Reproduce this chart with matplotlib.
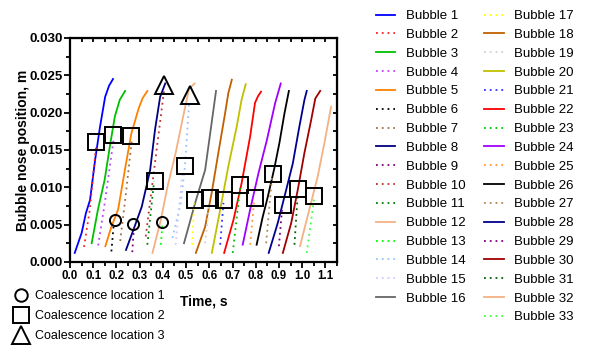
import numpy as np
import matplotlib
matplotlib.use("Agg")
import matplotlib.pyplot as plt
from matplotlib.lines import Line2D

plt.rcParams['font.family'] = ['Liberation Sans', 'DejaVu Sans']

# bubble nose position traces (time in s, position in m)
t1 = [0.020, 0.050, 0.068, 0.086, 0.108, 0.129, 0.151, 0.168, 0.185]
y1 = [0.0012, 0.0039, 0.0065, 0.0083, 0.0137, 0.0181, 0.0221, 0.0236, 0.0245]
t2 = [0.060, 0.085, 0.112]
y2 = [0.0020, 0.0070, 0.0155]
t3 = [0.093, 0.120, 0.149, 0.171, 0.193, 0.214, 0.237]
y3 = [0.0025, 0.0070, 0.0110, 0.0154, 0.0195, 0.0217, 0.0229]
t4 = [0.121, 0.150, 0.188]
y4 = [0.0022, 0.0080, 0.0165]
t5 = [0.152, 0.178, 0.207, 0.236, 0.264, 0.295, 0.312, 0.333]
y5 = [0.0021, 0.0047, 0.0070, 0.0123, 0.0172, 0.0205, 0.0219, 0.0229]
t6 = [0.178, 0.188]
y6 = [0.0014, 0.0050]
t7 = [0.216, 0.240, 0.266]
y7 = [0.0028, 0.0090, 0.0163]
t8 = [0.241, 0.273, 0.309, 0.345, 0.366, 0.388, 0.410]
y8 = [0.0016, 0.0043, 0.0074, 0.0123, 0.0177, 0.0221, 0.0239]
t9 = [0.268, 0.275]
y9 = [0.0013, 0.0046]
t10 = [0.326, 0.362, 0.405]
y10 = [0.0034, 0.0123, 0.0230]
t11 = [0.333, 0.362]
y11 = [0.0023, 0.0108]
t12 = [0.355, 0.391, 0.420, 0.455, 0.484, 0.513, 0.537]
y12 = [0.0012, 0.0056, 0.0101, 0.0146, 0.0190, 0.0232, 0.0239]
t13 = [0.391, 0.398]
y13 = [0.0023, 0.0050]
t14 = [0.441, 0.477, 0.495, 0.513]
y14 = [0.0032, 0.0079, 0.0128, 0.0213]
t15 = [0.455, 0.484]
y15 = [0.0023, 0.0123]
t16 = [0.491, 0.540, 0.582, 0.610, 0.629]
y16 = [0.0025, 0.0080, 0.0123, 0.0186, 0.0229]
t17 = [0.527, 0.534]
y17 = [0.0023, 0.0079]
t18 = [0.542, 0.582, 0.610, 0.639, 0.668, 0.682, 0.697]
y18 = [0.0012, 0.0047, 0.0092, 0.0146, 0.0199, 0.0226, 0.0244]
t19 = [0.582, 0.600]
y19 = [0.0025, 0.0079]
t20 = [0.611, 0.647, 0.682, 0.718, 0.739, 0.757]
y20 = [0.0012, 0.0070, 0.0128, 0.0181, 0.0217, 0.0238]
t21 = [0.647, 0.661]
y21 = [0.0023, 0.0079]
t22 = [0.664, 0.704, 0.739, 0.776, 0.797, 0.810, 0.823]
y22 = [0.0012, 0.0056, 0.0105, 0.0168, 0.0213, 0.0222, 0.0228]
t23 = [0.701, 0.733]
y23 = [0.0012, 0.0100]
t24 = [0.744, 0.776, 0.812, 0.848, 0.884, 0.908]
y24 = [0.0023, 0.0070, 0.0119, 0.0163, 0.0213, 0.0239]
t25 = [0.776, 0.793]
y25 = [0.0023, 0.0081]
t26 = [0.804, 0.830, 0.852, 0.880, 0.902, 0.924, 0.943]
y26 = [0.0023, 0.0060, 0.0087, 0.0125, 0.0159, 0.0199, 0.0229]
t27 = [0.845, 0.870]
y27 = [0.0025, 0.0113]
t28 = [0.856, 0.895, 0.931, 0.960, 0.988, 1.010, 1.020]
y28 = [0.0012, 0.0052, 0.0096, 0.0132, 0.0181, 0.0217, 0.0229]
t29 = [0.900, 0.914]
y29 = [0.0021, 0.0072]
t30 = [0.917, 0.953, 0.981, 1.010, 1.039, 1.057, 1.078]
y30 = [0.0012, 0.0052, 0.0096, 0.0146, 0.0190, 0.0219, 0.0229]
t31 = [0.967, 0.981]
y31 = [0.0023, 0.0090]
t32 = [0.991, 1.031, 1.067, 1.096, 1.125]
y32 = [0.0021, 0.0070, 0.0114, 0.0159, 0.0208]
t33 = [1.020, 1.053]
y33 = [0.0012, 0.0088]

# coalescence locations
circ_t = [0.193, 0.272, 0.398]
circ_y = [0.0056, 0.0051, 0.0053]
sq_t = [0.113, 0.186, 0.264, 0.364, 0.497, 0.539, 0.604, 0.663, 0.733, 0.795,
        0.875, 0.918, 0.982, 1.053]
sq_y = [0.0161, 0.0170, 0.0169, 0.0108, 0.0128, 0.0083, 0.0085, 0.0083, 0.0103,
        0.0086, 0.0118, 0.0076, 0.0097, 0.0088]
tri_t = [0.404, 0.517]
tri_y = [0.0237, 0.0223]

ts = [t1, t2, t3, t4, t5, t6, t7, t8, t9, t10, t11, t12, t13, t14, t15, t16, t17,
      t18, t19, t20, t21, t22, t23, t24, t25, t26, t27, t28, t29, t30, t31, t32, t33]
ys = [y1, y2, y3, y4, y5, y6, y7, y8, y9, y10, y11, y12, y13, y14, y15, y16, y17,
      y18, y19, y20, y21, y22, y23, y24, y25, y26, y27, y28, y29, y30, y31, y32, y33]

colors = ['#0000ff', '#ff2020', '#00c000', '#c040ff', '#ff8000', '#000000', '#a07040',
          '#000080', '#800080', '#c03030', '#008000', '#f4b183', '#00ff00', '#99c2ff',
          '#ccccff', '#666666', '#ffff00', '#c06000', '#d0d0d0', '#c0c000', '#3030ff',
          '#ff0000', '#00c000', '#a000ff', '#ff9933', '#000000', '#b08850', '#000090',
          '#800080', '#a00000', '#006000', '#f4b183', '#40ff40']
solid = [1, 3, 5, 8, 12, 16, 18, 20, 22, 24, 26, 28, 30, 32]

fig = plt.figure(figsize=(5.89, 3.45), dpi=100)
ax = fig.add_axes([0.119, 0.241, 0.453, 0.649])

handles = []
for i in range(33):
    n = i + 1
    if n in solid:
        ls = '-'
    else:
        ls = (0, (1, 2.2))
    ln, = ax.plot(ts[i], ys[i], color=colors[i], linestyle=ls, lw=1.3,
                  label='Bubble %d' % n)
    handles.append(ln)

ax.plot(circ_t, circ_y, 'o', ms=8, mfc='none', mec='black', mew=1.4)
ax.plot(sq_t, sq_y, 's', ms=11, mfc='none', mec='black', mew=1.4)
ax.plot(tri_t, tri_y, '^', ms=13, mfc='none', mec='black', mew=1.4)

ax.set_xlim(0, 1.15)
ax.set_ylim(0, 0.030)
ax.set_xticks(np.arange(0, 1.11, 0.1))
ax.set_xticklabels(['%.1f' % v for v in np.arange(0, 1.11, 0.1)])
ax.set_xticks(np.arange(0, 1.151, 0.05), minor=True)
ax.set_yticks(np.arange(0, 0.0301, 0.005))
ax.set_yticklabels(['%.3f' % v for v in np.arange(0, 0.0301, 0.005)])
ax.set_yticks(np.arange(0, 0.0301, 0.0025), minor=True)
ax.tick_params(which='major', direction='out', length=4, width=1.3, pad=1.5)
ax.tick_params(which='minor', direction='out', length=3, width=1.3)
ax.tick_params(axis='x', labelsize=8.3, pad=2)
ax.tick_params(axis='y', labelsize=9.5)
for lab in ax.get_xticklabels() + ax.get_yticklabels():
    lab.set_fontweight('bold')
for s in ax.spines.values():
    s.set_linewidth(1.6)

secx = ax.secondary_xaxis('top')
secx.set_xticks(np.arange(0, 1.151, 0.05))
secx.tick_params(direction='in', length=3, width=1.3, labeltop=False)
secy = ax.secondary_yaxis('right')
secy.set_yticks(np.arange(0, 0.0301, 0.0025))
secy.tick_params(direction='in', length=3, width=1.3, labelright=False)

ax.set_xlabel('Time, s', fontsize=10, fontweight='bold', labelpad=9)
ax.set_ylabel('Bubble nose position, m', fontsize=10, fontweight='bold')
ax.yaxis.set_label_coords(-0.152, 0.5)

# bubble legend, 16 entries in first column, 17 in second
blank = Line2D([], [], linestyle='none')
leg_h = handles[:16] + [blank] + handles[16:]
leg_l = ['Bubble %d' % n for n in range(1, 17)] + [''] + ['Bubble %d' % n for n in range(17, 34)]
fig.legend(leg_h, leg_l, ncol=2, loc='upper left', bbox_to_anchor=(0.622, 0.998),
           frameon=False, fontsize=9.5, handlelength=1.5, handletextpad=0.8,
           columnspacing=1.4, labelspacing=0.5, borderpad=0.2)

mk_h = [Line2D([], [], marker='o', ms=9, mfc='none', mec='black', mew=1.4, linestyle='none'),
        Line2D([], [], marker='s', ms=11, mfc='none', mec='black', mew=1.4, linestyle='none'),
        Line2D([], [], marker='^', ms=13, mfc='none', mec='black', mew=1.4, linestyle='none')]
mk_l = ['Coalescence location 1', 'Coalescence location 2', 'Coalescence location 3']
fig.legend(mk_h, mk_l, loc='upper left', bbox_to_anchor=(0.012, 0.18), frameon=False,
           fontsize=9, handlelength=1.0, handletextpad=0.6, labelspacing=0.62,
           borderpad=0.1)

fig.savefig('out.png', dpi=100)
